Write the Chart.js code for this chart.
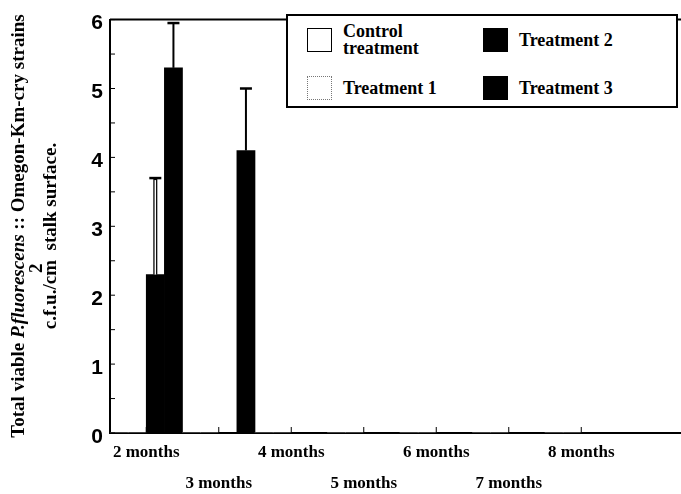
<!DOCTYPE html>
<html>
<head>
<meta charset="utf-8">
<script src="https://cdn.jsdelivr.net/npm/chart.js@4.4.1/dist/chart.umd.min.js"></script>
<style>
  html, body { margin: 0; padding: 0; background: #fff; overflow: hidden; }
  #wrap { position: relative; width: 690px; height: 494px; }
  .ytitle {
    position: absolute;
    transform: translate(-50%, -50%) rotate(-90deg);
    white-space: nowrap;
    font: bold 19px "Liberation Serif", "Times New Roman", serif;
    color: #000;
  }
  .sup { position: relative; display: inline-block; width: 0; top: -14px; left: -13px; }
  #legend {
    position: absolute; left: 286px; top: 14px;
    width: 392px; height: 94px;
    border: 2px solid #000; background: #fff;
    box-sizing: border-box;
    display: grid; grid-template-columns: 176px auto; grid-template-rows: 48px 48px;
    grid-auto-flow: column;
    padding-left: 19px;
    font: bold 18px "Liberation Serif", "Times New Roman", serif;
  }
  .item { display: flex; align-items: center; }
  .swatch { width: 25px; height: 24px; margin-right: 11px; box-sizing: border-box; flex: none; }
  .item span { max-width: 100px; line-height: 17px; }
</style>
</head>
<body>
<div id="wrap">
  <canvas id="chart"></canvas>
  <div class="ytitle" style="left:18px; top:226px;">Total viable <i>P.fluorescens</i> :: Omegon-Km-cry strains</div>
  <div class="ytitle" style="left:50px; top:236px;">c.f.u./cm<span class="sup">2</span>&nbsp;&nbsp;stalk surface.</div>
  <div id="legend"></div>
</div>
<script>
// Data
const months = ["2 months", "3 months", "4 months", "5 months", "6 months", "7 months", "8 months", ""];
const seriesNames = ["Control treatment", "Treatment 1", "Treatment 2", "Treatment 3"];
const control = [0, 0, 0, 0, 0, 0, 0, null];
const treatment1 = [0, 0, 0, 0, 0, 0, 0, null];
const treatment2 = [2.3, 0, 0, 0, 0, 0, 0, null];
const treatment3 = [5.3, 4.1, 0, 0, 0, 0, 0, null];
const treatment2Err = [3.7, null, null, null, null, null, null, null];
const treatment3Err = [5.95, 5.0, null, null, null, null, null, null];

// staggered x labels: odd months go on a second row
const staggered = months.map((m, i) => i % 2 ? ["", m] : [m]);

// Error bars drawn from each bar top up to the given value
const errorBars = {
  id: "errorBars",
  afterDatasetsDraw(chart) {
    const ctx = chart.ctx;
    const y = chart.scales.y;
    chart.data.datasets.forEach((ds, di) => {
      if (!ds.errTop) return;
      chart.getDatasetMeta(di).data.forEach((bar, i) => {
        const top = ds.errTop[i];
        if (top == null) return;
        const yTop = y.getPixelForValue(top);
        ctx.save();
        ctx.strokeStyle = "#000";
        ctx.lineWidth = ds.errOpen ? 4 : 2;
        ctx.beginPath();
        ctx.moveTo(bar.x, bar.y);
        ctx.lineTo(bar.x, yTop);
        ctx.stroke();
        if (ds.errOpen) {
          ctx.strokeStyle = "#fff";
          ctx.lineWidth = 1.5;
          ctx.beginPath();
          ctx.moveTo(bar.x, bar.y);
          ctx.lineTo(bar.x, yTop + 2);
          ctx.stroke();
        }
        ctx.strokeStyle = "#000";
        ctx.lineWidth = 2.5;
        ctx.beginPath();
        ctx.moveTo(bar.x - 6, yTop);
        ctx.lineTo(bar.x + 6, yTop);
        ctx.stroke();
        ctx.restore();
      });
    });
  }
};

// Top frame line and the small inward tick marks
const frame = {
  id: "frame",
  afterDraw(chart) {
    const ctx = chart.ctx;
    const a = chart.chartArea;
    const x = chart.scales.x, y = chart.scales.y;
    ctx.save();
    ctx.strokeStyle = "#000";
    ctx.lineWidth = 2;
    ctx.beginPath();
    ctx.moveTo(a.left, a.top);
    ctx.lineTo(a.right, a.top);
    ctx.stroke();
    ctx.lineWidth = 1;
    ctx.beginPath();
    for (let v = y.min; v <= y.max; v += 0.5) {
      const py = y.getPixelForValue(v);
      ctx.moveTo(a.left, py);
      ctx.lineTo(a.left + 5, py);
    }
    months.forEach((m, i) => {
      if (!m) return;
      const px = x.getPixelForValue(i);
      ctx.moveTo(px, a.bottom);
      ctx.lineTo(px, a.bottom - 6);
    });
    ctx.stroke();
    ctx.restore();
  }
};

const serif = '"Liberation Serif", "Times New Roman", serif';

new Chart(document.getElementById("chart").getContext("2d"), {
  type: "bar",
  data: {
    labels: staggered,
    datasets: [
      { label: seriesNames[0], data: control, backgroundColor: "#fff" },
      { label: seriesNames[1], data: treatment1, backgroundColor: "#fff" },
      { label: seriesNames[2], data: treatment2, backgroundColor: "#000", errTop: treatment2Err, errOpen: true },
      { label: seriesNames[3], data: treatment3, backgroundColor: "#000", errTop: treatment3Err }
    ]
  },
  options: {
    responsive: true,
    maintainAspectRatio: false,
    animation: false,
    layout: { padding: { top: 14, left: 0, right: 0, bottom: 0 } },
    datasets: { bar: { categoryPercentage: 1, barPercentage: 1, borderWidth: 0 } },
    plugins: { legend: { display: false }, tooltip: { enabled: false } },
    scales: {
      x: {
        ticks: {
          color: "#000", padding: 4, maxRotation: 0, autoSkip: false,
          font: { family: serif, size: 17, weight: "bold", lineHeight: 1.82 }
        },
        grid: { display: false, drawTicks: false },
        border: { display: true, color: "#000", width: 2 },
        afterFit(s) { s.height = 61; }
      },
      y: {
        min: 0,
        max: 6,
        ticks: {
          stepSize: 1, color: "#000", padding: 7, labelOffset: 4,
          font: { family: '"Liberation Sans", Arial, sans-serif', size: 21, weight: "bold" }
        },
        grid: { display: false, drawTicks: false },
        border: { display: true, color: "#000", width: 2 },
        afterFit(s) { s.width = 110; }
      }
    }
  },
  plugins: [errorBars, frame]
});

// Legend box, two columns of two rows
const swatchStyles = [
  "background:#fff; border:1px solid #000;",
  "background:#fff; border:1px dotted #777;",
  "background:#000;",
  "background:#000;"
];
const legend = document.getElementById("legend");
seriesNames.forEach((name, i) => {
  const item = document.createElement("div");
  item.className = "item";
  item.innerHTML = '<div class="swatch" style="' + swatchStyles[i] + '"></div><span>' + name + "</span>";
  legend.appendChild(item);
});
</script>
</body>
</html>
